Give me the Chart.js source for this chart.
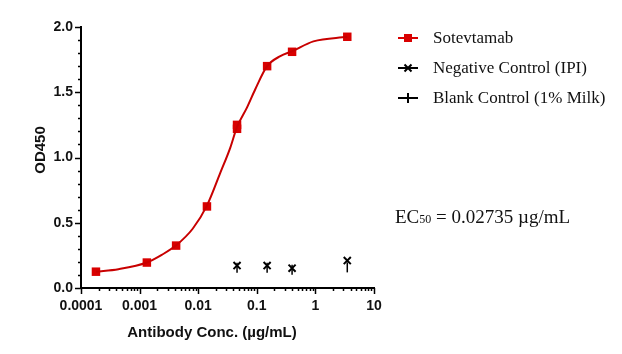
<!DOCTYPE html>
<html>
<head>
<meta charset="utf-8">
<script src="https://cdn.jsdelivr.net/npm/chart.js@4"></script>
<style>
  html, body { margin: 0; padding: 0; background: #fff; }
  #wrap { width: 622px; height: 354px; }
</style>
</head>
<body>
<div id="wrap"><canvas id="odChart" width="622" height="354"></canvas></div>
<script>
// measured points (µg/mL vs OD450)
const concentrations = [0.00018, 0.00133, 0.0042, 0.0141, 0.046, 0.046, 0.15, 0.40, 3.5];
const sotevtamab = [0.125, 0.195, 0.325, 0.625, 1.22, 1.25, 1.70, 1.81, 1.925];

const controlConc = [0.046, 0.15, 0.40, 3.5];
const negativeIPI = [0.172, 0.172, 0.152, 0.21];
const blankMilk = [0.155, 0.155, 0.14, 0.158];

// fitted curve
const fitConc = [0.00018, 0.000435, 0.00133, 0.00239, 0.00416, 0.00805, 0.0141, 0.0238, 0.0352, 0.0459, 0.0679, 0.0942, 0.149, 0.252, 0.396, 0.925, 3.5];
const fitOD = [0.125, 0.144, 0.195, 0.254, 0.325, 0.454, 0.631, 0.882, 1.074, 1.233, 1.382, 1.523, 1.698, 1.777, 1.813, 1.89, 1.925];

const xTickLabels = ['0.0001', '0.001', '0.01', '0.1', '1', '10'];
const yTickLabels = ['0.0', '0.5', '1.0', '1.5', '2.0'];

const legendLabels = ['Sotevtamab', 'Negative Control (IPI)', 'Blank Control (1% Milk)'];
const ec50Text = { main: 'EC', sub: '50', rest: ' = 0.02735 \u00b5g/mL' };

const red = '#d90000';
const pts = (xs, ys) => xs.map((x, i) => ({ x: x, y: ys[i] }));
const isPow10 = v => Math.abs(Math.log10(v) - Math.round(Math.log10(v))) < 1e-6;

// ticks, axis titles, legend and EC50 note
const extras = {
  id: 'extras',
  afterDraw(chart) {
    const ctx = chart.ctx;
    const xs = chart.scales.x, ys = chart.scales.y;
    ctx.save();
    ctx.strokeStyle = '#000';
    ctx.lineWidth = 1.5;
    // x ticks
    xTickLabels.forEach((lab, i) => {
      const dec = Math.pow(10, i - 4);
      for (let m = 1; m <= 9; m++) {
        const v = dec * m;
        if (v > 10.0001) break;
        const px = Math.round(xs.getPixelForValue(v)) + 0.5;
        const len = m === 1 ? 6 : 3;
        ctx.beginPath();
        ctx.moveTo(px, ys.bottom);
        ctx.lineTo(px, ys.bottom + len);
        ctx.stroke();
        if (i === xTickLabels.length - 1) break;
      }
    });
    // y ticks
    for (let k = 0; k <= 20; k++) {
      const v = k / 10;
      const py = Math.round(ys.getPixelForValue(v)) + 0.5;
      const len = k % 5 === 0 ? 6 : 3;
      ctx.beginPath();
      ctx.moveTo(xs.left, py);
      ctx.lineTo(xs.left - len, py);
      ctx.stroke();
    }
    // axis titles
    ctx.fillStyle = '#111';
    ctx.font = 'bold 15px "Liberation Sans", Arial, sans-serif';
    ctx.textAlign = 'center';
    ctx.textBaseline = 'middle';
    ctx.fillText('Antibody Conc. (\u00b5g/mL)', 212, 333);
    ctx.save();
    ctx.translate(41, 150);
    ctx.rotate(-Math.PI / 2);
    ctx.fillText('OD450', 0, 0);
    ctx.restore();

    // legend
    ctx.font = '17px "Liberation Serif", "Times New Roman", serif';
    ctx.textAlign = 'left';
    const rows = [38, 68, 98];
    legendLabels.forEach((lab, i) => {
      const y = rows[i];
      const x0 = 398, x1 = 418, cx = 408;
      ctx.lineWidth = 2;
      ctx.strokeStyle = i === 0 ? red : '#000';
      ctx.beginPath();
      ctx.moveTo(x0, y);
      ctx.lineTo(x1, y);
      ctx.stroke();
      if (i === 0) {
        ctx.fillStyle = red;
        ctx.fillRect(cx - 4, y - 4, 8, 8);
      } else if (i === 1) {
        ctx.beginPath();
        ctx.moveTo(cx - 3.5, y - 3.5); ctx.lineTo(cx + 3.5, y + 3.5);
        ctx.moveTo(cx - 3.5, y + 3.5); ctx.lineTo(cx + 3.5, y - 3.5);
        ctx.stroke();
      } else {
        ctx.beginPath();
        ctx.moveTo(cx, y - 5); ctx.lineTo(cx, y + 5);
        ctx.stroke();
      }
      ctx.fillStyle = '#111';
      ctx.fillText(lab, 433, y + 1);
    });

    // EC50
    let ex = 395;
    const ey = 218;
    ctx.font = '19px "Liberation Serif", "Times New Roman", serif';
    ctx.fillText(ec50Text.main, ex, ey);
    ex += ctx.measureText(ec50Text.main).width;
    ctx.font = '12px "Liberation Serif", "Times New Roman", serif';
    ctx.fillText(ec50Text.sub, ex, ey + 2);
    ex += ctx.measureText(ec50Text.sub).width;
    ctx.font = '19px "Liberation Serif", "Times New Roman", serif';
    ctx.fillText(ec50Text.rest, ex, ey);
    ctx.restore();
  }
};

const ctx = document.getElementById('odChart');

new Chart(ctx, {
  type: 'scatter',
  data: {
    datasets: [
      {
        label: 'fit',
        data: pts(fitConc, fitOD),
        showLine: true,
        borderColor: '#c80000',
        borderWidth: 2,
        pointRadius: 0,
        cubicInterpolationMode: 'monotone'
      },
      {
        label: legendLabels[0],
        data: pts(concentrations, sotevtamab),
        pointStyle: 'rect',
        pointRadius: 6,
        backgroundColor: red,
        borderColor: red,
        borderWidth: 0
      },
      {
        label: legendLabels[1],
        data: pts(controlConc, negativeIPI),
        pointStyle: 'crossRot',
        pointRadius: 5,
        borderColor: '#000',
        borderWidth: 2
      },
      {
        label: legendLabels[2],
        data: pts(controlConc, blankMilk),
        pointStyle: 'line',
        rotation: 90,
        pointRadius: 5,
        borderColor: '#000',
        borderWidth: 1.5
      }
    ]
  },
  options: {
    responsive: false,
    animation: false,
    layout: { padding: { top: 27, right: 248, left: 0, bottom: 0 } },
    plugins: { legend: { display: false }, tooltip: { enabled: false } },
    scales: {
      x: {
        type: 'logarithmic',
        min: 0.0001,
        max: 10,
        afterFit(s) { s.height = 66; },
        border: { display: true, color: '#000', width: 2 },
        grid: { display: false, drawTicks: false },
        ticks: {
          autoSkip: false,
          maxRotation: 0,
          minRotation: 0,
          padding: 10,
          color: '#111',
          font: { family: '"Liberation Sans", Arial, sans-serif', size: 14, weight: 'bold' },
          callback(v) {
            if (!isPow10(v)) return '';
            return xTickLabels[Math.round(Math.log10(v)) + 4];
          }
        }
      },
      y: {
        type: 'linear',
        min: 0,
        max: 2,
        afterFit(s) { s.width = 81; },
        border: { display: true, color: '#000', width: 2 },
        grid: { display: false, drawTicks: false },
        ticks: {
          stepSize: 0.5,
          padding: 8,
          color: '#111',
          font: { family: '"Liberation Sans", Arial, sans-serif', size: 14, weight: 'bold' },
          callback(v) {
            return yTickLabels[Math.round(v * 2)];
          }
        }
      }
    }
  },
  plugins: [extras]
});
</script>
</body>
</html>
